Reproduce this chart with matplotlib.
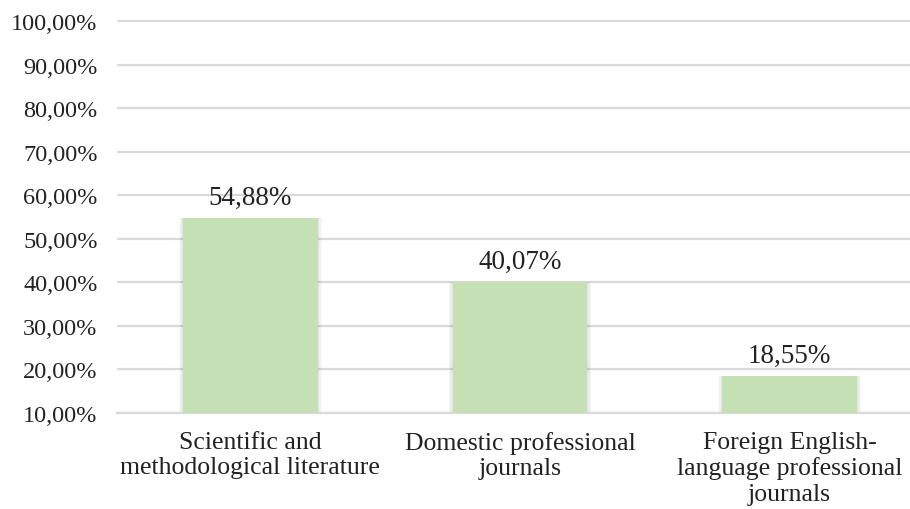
import numpy as np
import matplotlib.pyplot as plt

plt.rcParams['font.family'] = ['Liberation Serif', 'DejaVu Serif']

categories = ['Scientific and\nmethodological literature',
              'Domestic professional\njournals',
              'Foreign English-\nlanguage professional\njournals']
values = [54.88, 40.07, 18.55]
ticks = [10, 20, 30, 40, 50, 60, 70, 80, 90, 100]

base = 10
x = np.arange(len(categories))
barWidth = 0.5

fig = plt.figure(figsize=(9.1, 5.1), dpi=100)
ax = fig.add_axes([117 / 910, 1 - 414 / 510, 1 - 117 / 910, (414 - 18) / 510])

heights = np.array(values) - base

# soft shadow around the bars
for k in range(1, 6):
    ax.bar(x, heights, bottom=base, width=barWidth + 0.006 * k,
           color='#555555', alpha=0.03, linewidth=0, zorder=2)
ax.bar(x, heights, bottom=base, width=barWidth, color='#c5e0b4', zorder=3)

for xi, v in zip(x, values):
    ax.text(xi, v + 1.8, f'{v:.2f}%'.replace('.', ','), ha='center', va='bottom',
            fontsize=19.5, color='#222222')

ax.set_xlim(-0.495, 2.447)
ax.set_ylim(10, 100 + 4 / 4.356)
ax.set_yticks(ticks)
ax.set_yticklabels([f'{t:.2f}%'.replace('.', ',') for t in ticks], fontsize=17.5, color='#222222')
ax.set_xticks(x)
ax.set_xticklabels(categories, fontsize=18.5, color='#222222', linespacing=1.19)

ax.yaxis.grid(True, color='#d9d9d9', linewidth=1.6)
ax.set_axisbelow(True)
for side in ['top', 'right', 'left']:
    ax.spines[side].set_visible(False)
ax.spines['bottom'].set_color('#d9d9d9')
ax.spines['bottom'].set_linewidth(1.6)
ax.tick_params(length=0)
ax.tick_params(axis='y', pad=14)
ax.tick_params(axis='x', pad=13)

fig.savefig('out.png', dpi=100)
